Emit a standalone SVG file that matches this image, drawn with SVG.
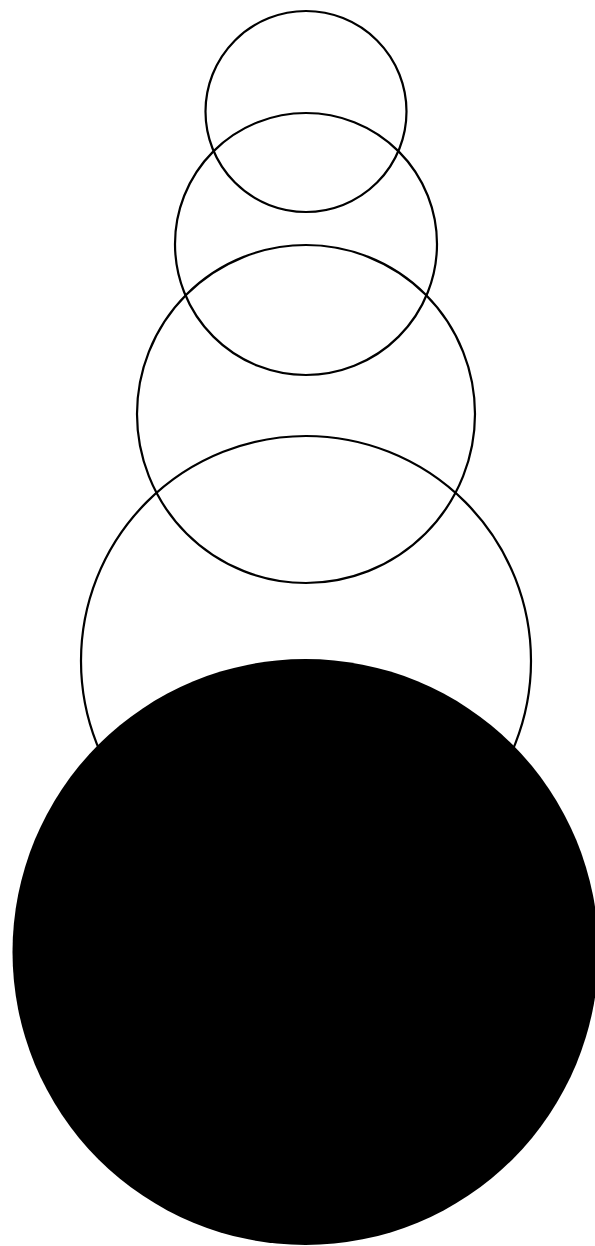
<svg xmlns="http://www.w3.org/2000/svg" width="595" height="1246" viewBox="0 0 595 1246">
<style>
.ring{fill:none;stroke:#000;stroke-width:2.2}
</style>
<rect width="595" height="1246" fill="#fff"/>
<g id="circle1"><circle class="ring" cx="306" cy="111.5" r="100.5"/></g>
<g id="circle2"><circle class="ring" cx="306" cy="244" r="131"/></g>
<g id="circle3"><circle class="ring" cx="306" cy="414" r="169"/></g>
<g id="circle4"><circle class="ring" cx="306" cy="661" r="225"/></g>
<g id="circle5"><circle cx="305.5" cy="952" r="293" fill="#000"/></g>
</svg>
